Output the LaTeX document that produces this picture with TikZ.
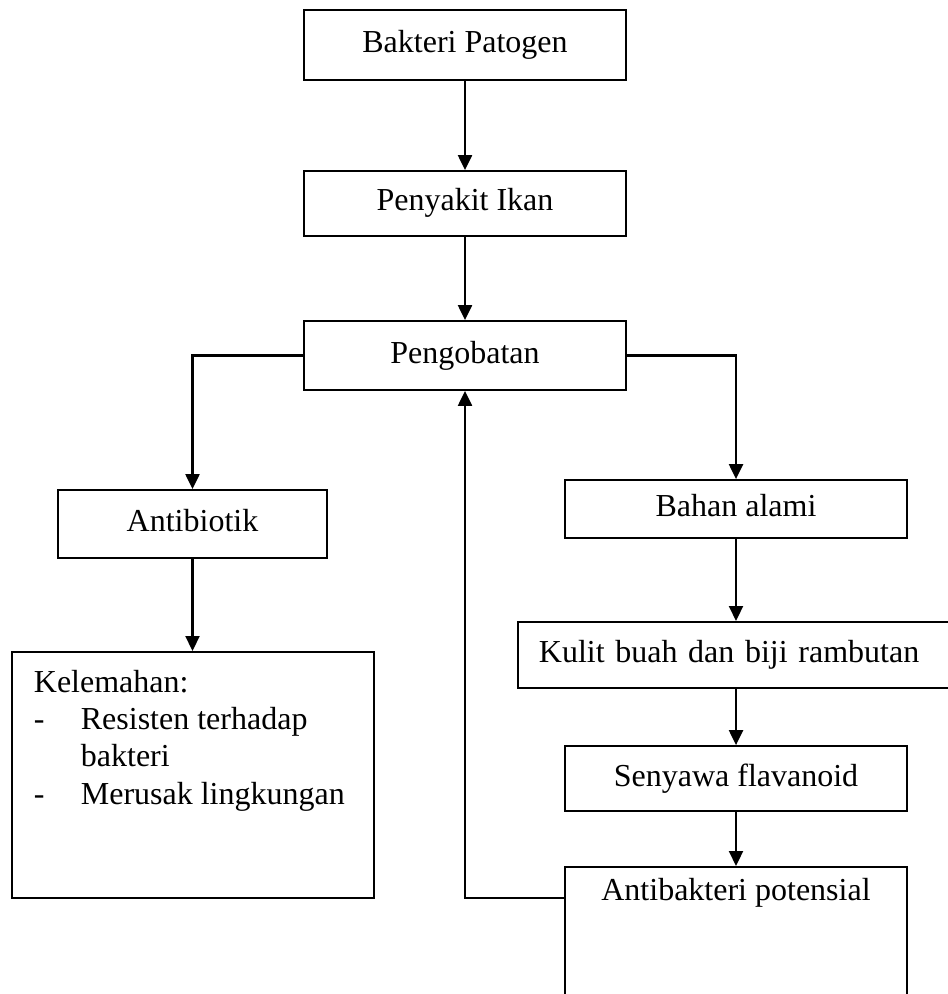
\documentclass[tikz,border=0pt]{standalone}
\usepackage{fontspec}
\setmainfont{Liberation Serif}
\usetikzlibrary{arrows.meta, positioning}

\begin{document}
\begin{tikzpicture}[
  x=0.5pt, y=-0.5pt,
  kotak/.style={rectangle, draw=black, line width=0.9pt,
                inner sep=0pt, text height=11pt, text depth=3.5pt,
                font=\fontsize{16}{18.5}\selectfont},
  daftar/.style={rectangle, draw=black, line width=0.9pt,
                 anchor=north west, inner xsep=11pt, inner ysep=9pt,
                 align=left, font=\fontsize{16}{18.7}\selectfont},
  panah/.style={-{Triangle[length=7.5pt, width=7pt]}, line width=1.1pt},
  font=\fontsize{16}{18.5}\selectfont
]
  \useasboundingbox (0,0) rectangle (947,994);

  %% Main chain (centre column)
  \node[kotak, minimum width=161pt, minimum height=35pt]   (bakteri)    at (465,45)    {Bakteri Patogen};
  \node[kotak, minimum width=161pt, minimum height=32.5pt] (penyakit)   at (465,203.5) {Penyakit Ikan};
  \node[kotak, minimum width=161pt, minimum height=34.5pt] (pengobatan) at (465,355.5) {Pengobatan};

  %% Left branch
  \node[kotak, minimum width=134.5pt, minimum height=34pt] (antibiotik) at (192.5,524) {Antibiotik};
  \node[daftar] (kelemahan) at (11,651)
    {\parbox[t][105pt][t]{159pt}{Kelemahan:\\
      \makebox[23.5pt][l]{-}Resisten terhadap\\
      \hspace*{23.5pt}bakteri\\
      \makebox[23.5pt][l]{-}Merusak lingkungan}};

  %% Right branch
  \node[kotak, minimum width=171pt, minimum height=29pt]   (bahan)   at (736,509)   {Bahan alami};
  \node[kotak, anchor=north west, text width=199pt, inner xsep=10.5pt,
        align=left, minimum height=33pt]                   (kulit)   at (517,621)   {\mbox{Kulit buah dan biji rambutan}};
  \node[kotak, minimum width=171pt, minimum height=32.5pt] (senyawa) at (736,778.5) {Senyawa flavanoid};
  \node[kotak, anchor=north, minimum width=171pt, inner ysep=6pt,
        text depth=45pt]                                   (antib)   at (736,866)   {Antibakteri potensial};

  %% Arrows
  \draw[panah] (bakteri) -- (penyakit);
  \draw[panah] (penyakit) -- (pengobatan);
  \draw[panah] (pengobatan.west) -| (antibiotik.north);
  \draw[panah] (pengobatan.east) -| (bahan.north);
  \draw[panah] (antibiotik.south) -- (antibiotik.south |- kelemahan.north);
  \draw[panah] (bahan.south) -- (bahan.south |- kulit.north);
  \draw[panah] (senyawa.north |- kulit.south) -- (senyawa.north);
  \draw[panah] (senyawa.south) -- (senyawa.south |- antib.north);

  %% Feedback loop
  \draw[panah] ([yshift=-16pt]antib.north west) -| (pengobatan.south);

\end{tikzpicture}
\end{document}
